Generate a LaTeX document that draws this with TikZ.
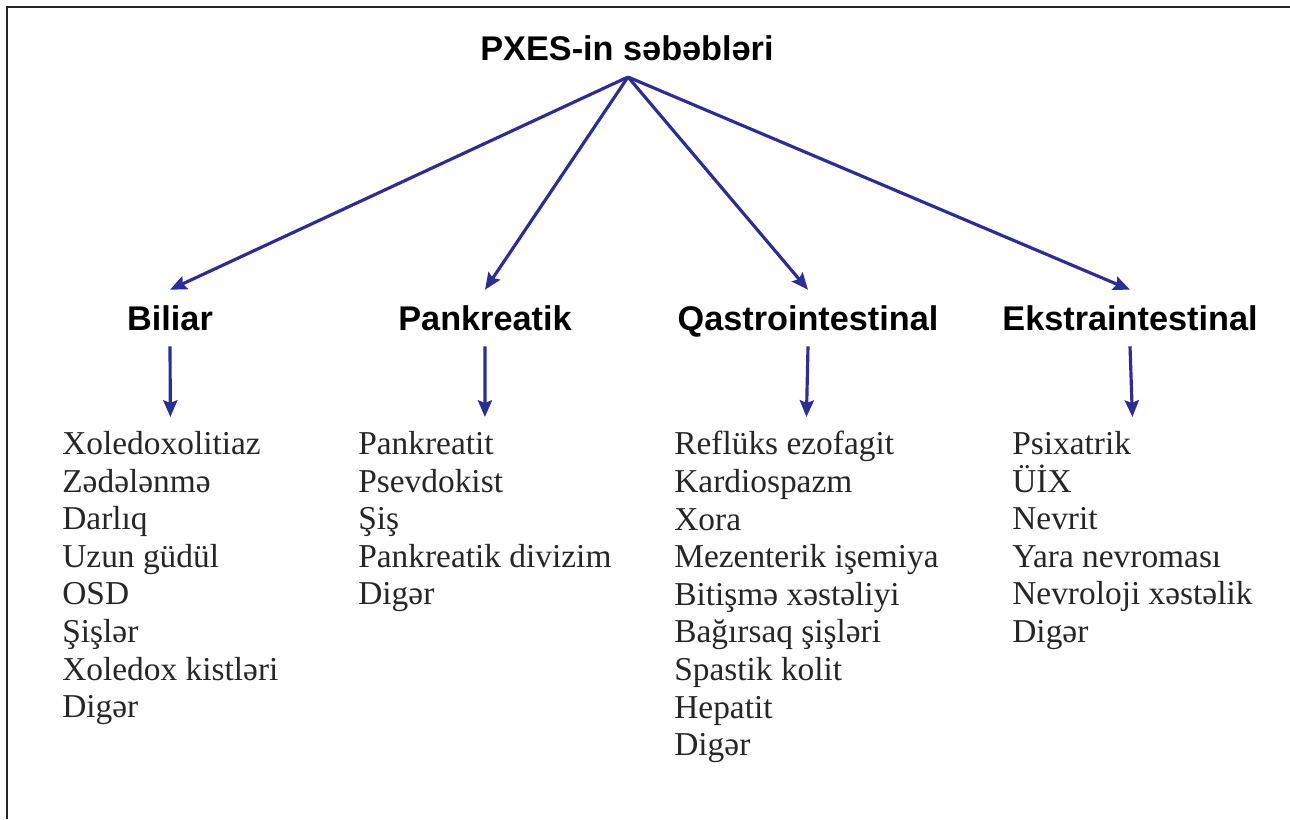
\documentclass[tikz,border=0pt]{standalone}
\usepackage{fontspec}
\setmainfont{Liberation Serif}
\setsansfont{Liberation Sans}
\usetikzlibrary{positioning,arrows.meta}
\definecolor{arrowblue}{RGB}{44,46,148}

\begin{document}
\begin{tikzpicture}[x=0.02cm, y=-0.02cm,
  head/.style={font=\sffamily\bfseries\fontsize{19.5}{23}\selectfont,
    text height=14.6pt, text depth=0pt, inner xsep=2pt, inner ysep=8.6pt},
  causes/.style={anchor=north west, align=left, inner xsep=0pt, inner ysep=8pt,
    text=black!85, font=\fontsize{19}{21.4}\selectfont},
  arr/.style={draw=arrowblue, line width=1.8pt,
    -{Stealth[length=9.5pt,width=8pt,inset=1.5pt]}}]
  \useasboundingbox (0,0) rectangle (1290,819);
  % Frame (only top and left edges show)
  \draw[black!85, line width=1.2pt] (1290,7) -- (7,7) -- (7,819);
  % Title
  \node[head] (root) at (627,48) {PXES-in səbəbləri};
  \coordinate (hub) at (628,77);
  % Groups
  \node[head] (bil) at (170,318) {Biliar};
  \node[head] (pan) at (485,318) {Pankreatik};
  \node[head] (qas) at (808,318) {Qastrointestinal};
  \node[head] (eks) at (1130,318) {Ekstraintestinal};
  % Lists
  \node[causes] (bil-list) at (62,417) {Xoledoxolitiaz\\Zədələnmə\\Darlıq\\Uzun güdül\\OSD\\Şişlər\\Xoledox kistləri\\Digər};
  \node[causes] (pan-list) at (358,417) {Pankreatit\\Psevdokist\\Şiş\\Pankreatik divizim\\Digər};
  \node[causes] (qas-list) at (674,417) {Reflüks ezofagit\\Kardiospazm\\Xora\\Mezenterik işemiya\\Bitişmə xəstəliyi\\Bağırsaq şişləri\\Spastik kolit\\Hepatit\\Digər};
  \node[causes] (eks-list) at (1012,417) {Psixatrik\\ÜİX\\Nevrit\\Yara nevroması\\Nevroloji xəstəlik\\Digər};
  % Arrows
  \foreach \n in {bil,pan,qas,eks}
    \draw[arr] (hub) -- (\n.north);
  \foreach \n in {bil,pan,qas,eks}
    \draw[arr] (\n.south) -- (\n-list.north);
\end{tikzpicture}
\end{document}
